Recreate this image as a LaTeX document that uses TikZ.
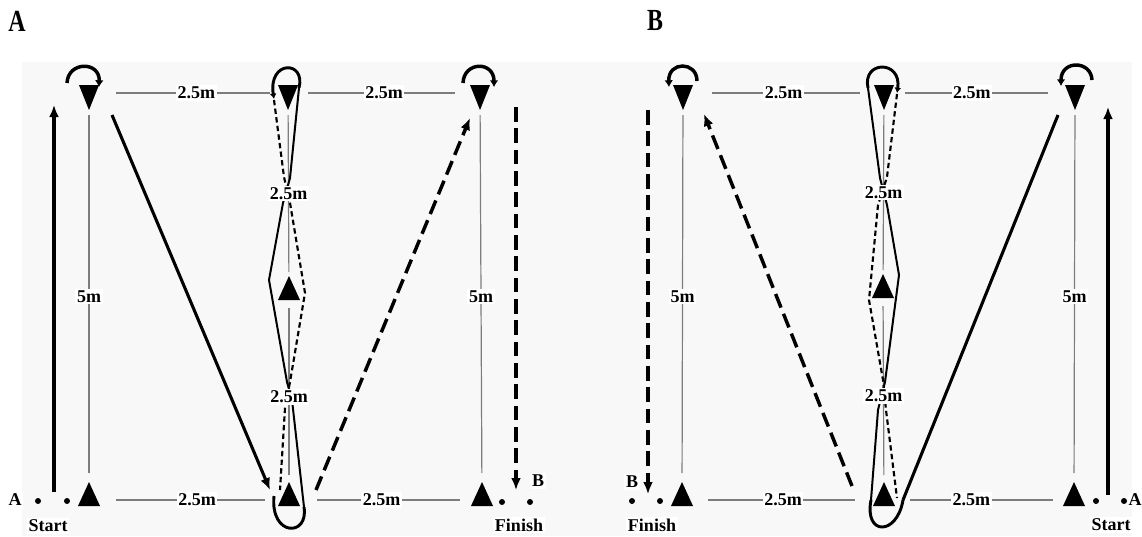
\documentclass[tikz,border=0pt]{standalone}
\usepackage{fontspec}
\setmainfont{Liberation Serif}
\usetikzlibrary{arrows.meta,calc}
\definecolor{bgc}{RGB}{248,248,248}
\definecolor{gl}{RGB}{125,125,125}
\tikzset{
  dist/.style={draw=gl, line width=0.9pt},
  lbl/.style={fill=white, inner sep=1.2pt, font=\bfseries\fontsize{13.5}{13.5}\selectfont},
  runarrow/.style={line width=2.3pt, -{Latex[length=9pt,width=7.5pt]}},
  runline/.style={line width=2.3pt},
  dasharrow/.style={line width=2.6pt, dash pattern=on 11pt off 5pt, -{Latex[length=9pt,width=7.5pt]}},
  loopsolid/.style={line width=1.5pt},
  loopdash/.style={line width=1.6pt, dash pattern=on 4pt off 2.5pt},
  turnarc/.style={line width=2.6pt, -{Latex[length=5pt,width=6.5pt]}},
  uturn/.style={line width=2.2pt},
  dotmark/.style={circle, fill=black, inner sep=0pt, minimum size=4.5pt},
  panel/.style={font=\bfseries\fontsize{23}{23}\selectfont, xscale=0.78},
  upcone/.pic={\fill (0,-18) -- (11,6) -- (-11,6) -- cycle;},
  downcone/.pic={\fill (-10,-8) -- (10,-8) -- (0,17) -- cycle;},
}
\begin{document}
\begin{tikzpicture}[x=0.75pt,y=-0.75pt]
\fill[white] (0,0) rectangle (1142,536);
\useasboundingbox (0,0) rectangle (1142,536);
\fill[bgc] (22,62) rectangle (1132,536);

% ---------- cone positions ----------
\coordinate (tA1) at (89,93);  \coordinate (tA2) at (288,93);  \coordinate (tA3) at (480,93);
\coordinate (bA1) at (89,500); \coordinate (bA2) at (289,500); \coordinate (bA3) at (482,500);
\coordinate (mA) at (289,294);
\coordinate (tB1) at (683,93);  \coordinate (tB2) at (884,93);  \coordinate (tB3) at (1075,93);
\coordinate (bB1) at (682,500); \coordinate (bB2) at (884,500); \coordinate (bB3) at (1074,500);
\coordinate (mB) at (883,292);

% ---------- distance lines ----------
\draw[dist, shorten <=27pt*0.75, shorten >=18pt*0.75] (tA1) -- (tA2);
\draw[dist, shorten <=20pt*0.75, shorten >=25pt*0.75] (tA2) -- (tA3);
\draw[dist, shorten <=27pt*0.75, shorten >=24pt*0.75] (bA1) -- (bA2);
\draw[dist, shorten <=28pt*0.75, shorten >=22pt*0.75] (bA2) -- (bA3);
\draw[dist, shorten <=22pt*0.75, shorten >=27pt*0.75] (tA1) -- (bA1);
\draw[dist, shorten <=22pt*0.75, shorten >=27pt*0.75] (tA3) -- (bA3);
\draw[dist, shorten <=22pt*0.75, shorten >=22pt*0.75] (tA2) -- (mA);
\draw[dist, shorten <=14pt*0.75, shorten >=25pt*0.75] (mA) -- (bA2);

\draw[dist, shorten <=29pt*0.75, shorten >=24pt*0.75] (tB1) -- (tB2);
\draw[dist, shorten <=21pt*0.75, shorten >=27pt*0.75] (tB2) -- (tB3);
\draw[dist, shorten <=26pt*0.75, shorten >=29pt*0.75] (bB1) -- (bB2);
\draw[dist, shorten <=26pt*0.75, shorten >=21pt*0.75] (bB2) -- (bB3);
\draw[dist, shorten <=22pt*0.75, shorten >=27pt*0.75] (tB1) -- (bB1);
\draw[dist, shorten <=22pt*0.75, shorten >=27pt*0.75] (tB3) -- (bB3);
\draw[dist, shorten <=22pt*0.75, shorten >=22pt*0.75] (tB2) -- (mB);
\draw[dist, shorten <=14pt*0.75, shorten >=25pt*0.75] (mB) -- (bB2);

% ---------- cones ----------
\foreach \c in {tA1,tA2,tA3,tB1,tB2,tB3}{\pic at (\c) {downcone};}
\foreach \c in {bA1,bA2,bA3,mA,bB1,bB2,bB3,mB}{\pic at (\c) {upcone};}

% ---------- panel A runs ----------
\coordinate (aS0) at (54,492);   \coordinate (aS1) at (54,105);
\coordinate (aD0) at (112,115);  \coordinate (aD1) at (270,490);
\coordinate (aR0) at (316,490);  \coordinate (aR1) at (470,118);
\coordinate (aF0) at (516,107);  \coordinate (aF1) at (516,490);
\draw[runarrow] (aS0) -- (aS1);
\draw[runarrow] (aD0) -- (aD1);
\draw[dasharrow] (aR0) -- (aR1);
\draw[dasharrow] (aF0) -- (aF1);
% turns over cones
\draw[turnarc] (67,83) .. controls (68,61) and (100,61) .. (99,87);
\draw[turnarc] (463,83) .. controls (464,61) and (494,61) .. (494,87);
% middle column shuttle
\draw[loopsolid] (304,507) -- (292,400) -- (287,382) -- (269,280) -- (283,203) -- (290,178) -- (299,88);
\draw[uturn, -{Latex[length=4pt,width=5pt]}] (299,88) .. controls (306,60) and (268,60) .. (274,99);
\draw[loopdash] (274,100) -- (284,177) -- (290,203) -- (305,293) -- (290,382) -- (285,408) -- (280,490);
\draw[uturn] (274,496) .. controls (270,537) and (309,537) .. (304,507);

% ---------- panel B runs ----------
\coordinate (bS0) at (1108,495); \coordinate (bS1) at (1108,107);
\coordinate (bD0) at (1058,115); \coordinate (bD1) at (903,500);
\coordinate (bR0) at (852,486);  \coordinate (bR1) at (704,114);
\coordinate (bF0) at (648,110);  \coordinate (bF1) at (648,494);
\draw[runarrow] (bS0) -- (bS1);
\draw[runline] (bD0) -- (bD1);
\draw[dasharrow] (bR0) -- (bR1);
\draw[dasharrow] (bF0) -- (bF1);
\draw[turnarc] (697,81) .. controls (697,61) and (668,61) .. (669,87);
\draw[turnarc] (1092,80) .. controls (1091,60) and (1061,60) .. (1061,86);
\draw[uturn] (903,500) .. controls (897,536) and (864,536) .. (871,500);
\draw[loopsolid] (871,500) -- (878,410) -- (885,382) -- (899,275) -- (887,205) -- (880,178) -- (868,88);
\draw[uturn, -{Latex[length=4pt,width=5pt]}] (868,88) .. controls (862,60) and (902,60) .. (897,93);
\draw[loopdash] (897,94) -- (887,177) -- (878,205) -- (869,300) -- (883,380) -- (886,410) -- (897,498);

% ---------- distance labels ----------
\path (tA1) -- node[lbl, pos=0.54] (lA1) {2.5m} (tA2);
\path (tA2) -- node[lbl] (lA2) {2.5m} (tA3);
\path (bA1) -- node[lbl, pos=0.54] (lA3) {2.5m} (bA2);
\path (bA2) -- node[lbl, pos=0.48] (lA4) {2.5m} (bA3);
\path (tA1) -- node[lbl] (lA5) {5m} (bA1);
\path (tA3) -- node[lbl] (lA6) {5m} (bA3);
\path (tA2) -- node[lbl, pos=0.5] (lA7) {2.5m} (mA);
\path (mA) -- node[lbl, pos=0.5] (lA8) {2.5m} (bA2);

\path (tB1) -- node[lbl] (lB1) {2.5m} (tB2);
\path (tB2) -- node[lbl, pos=0.46] (lB2) {2.5m} (tB3);
\path (bB1) -- node[lbl] (lB3) {2.5m} (bB2);
\path (bB2) -- node[lbl, pos=0.46] (lB4) {2.5m} (bB3);
\path (tB1) -- node[lbl] (lB5) {5m} (bB1);
\path (tB3) -- node[lbl] (lB6) {5m} (bB3);
\path (tB2) -- node[lbl] (lB7) {2.5m} (mB);
\path (mB) -- node[lbl] (lB8) {2.5m} (bB2);

% ---------- start / finish ----------
\node[dotmark] (dA1) at (38,501) {};
\node[dotmark] (dA2) at (67,501) {};
\node[lbl] (stA) at (15,500) {A};
\node[lbl] (startA) at (48,526) {Start};
\node[dotmark] (dA3) at (502,502) {};
\node[dotmark] (dA4) at (530,502) {};
\node[lbl] (finB) at (538,481) {B};
\node[lbl] (finishA) at (519,525) {Finish};

\node[dotmark] (dB1) at (632,501) {};
\node[dotmark] (dB2) at (660,501) {};
\node[lbl] (finB2) at (632,482) {B};
\node[lbl] (finishB) at (652,525) {Finish};
\node[dotmark] (dB3) at (1096,501) {};
\node[dotmark] (dB4) at (1124,501) {};
\node[lbl, inner sep=0.5pt] (stA2) at (1135,500) {A};
\node[lbl] (startB) at (1111,525) {Start};

% ---------- panel letters ----------
\node[panel] (pA) at (17,21) {A};
\node[panel] (pB) at (655,21) {B};
\end{tikzpicture}
\end{document}
